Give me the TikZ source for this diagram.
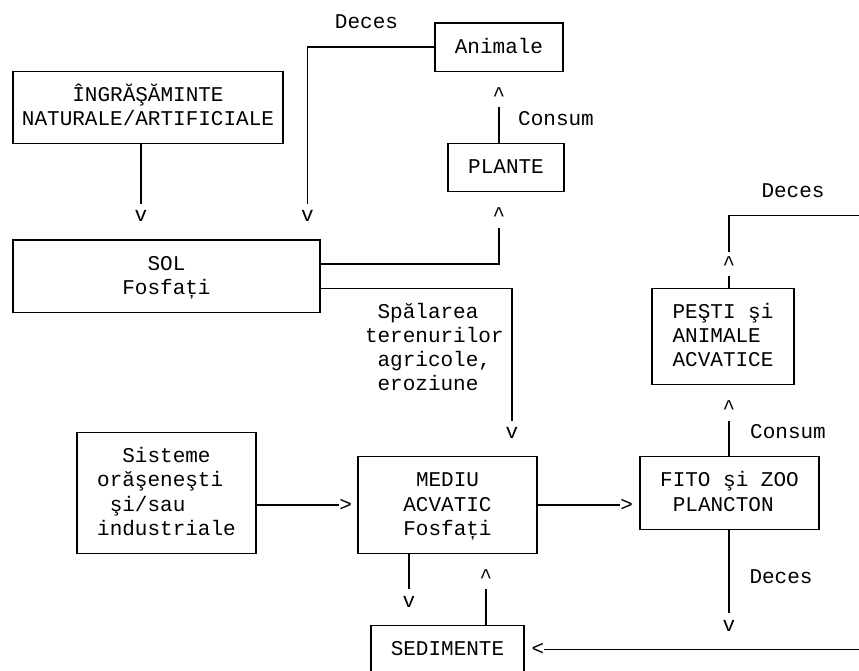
\documentclass[tikz,border=0pt]{standalone}
\usepackage{fontspec}
\setmainfont{Liberation Mono}
\newcommand\mystrut{\rule[-6.05pt]{0pt}{24.1pt}}
\tikzset{
  txtbase/.style={inner sep=0pt, outer sep=0pt, font=\fontsize{21}{24.1}\selectfont},
  box/.style={txtbase, draw, line width=1.2pt},
  lbl/.style={txtbase},
  tipmk/.style={txtbase},
  conn/.style={line width=1.2pt},
}
\begin{document}
\begin{tikzpicture}[x=1pt,y=-1pt]
\useasboundingbox (0,0) rectangle (859,671);
\clip (0,0) rectangle (859,671);

% boxes
\node[box, minimum width=270pt, minimum height=72.3pt, align=center] (ingr) at (148,107.35)
  {\mystrut ÎNGRĂŞĂMINTE\\\mystrut NATURALE/ARTIFICIALE};
\node[box, minimum width=307pt, minimum height=72.3pt, align=center] (sol) at (166.5,276.05)
  {\mystrut SOL\\\mystrut Fosfați};
\node[box, minimum width=128pt, minimum height=48.2pt] (anim) at (499,47.1)
  {\mystrut Animale};
\node[box, minimum width=116pt, minimum height=48.2pt] (plante) at (506,167.6)
  {\mystrut PLANTE};
\node[box, minimum width=142pt, minimum height=96.4pt, align=left] (pesti) at (723,336.3)
  {\mystrut PEŞTI şi\\\mystrut ANIMALE\\\mystrut ACVATICE};
\node[box, minimum width=179pt, minimum height=72.3pt, align=left] (fito) at (729.5,492.95)
  {\mystrut FITO şi ZOO\\\mystrut\hphantom{x}PLANCTON};
\node[box, minimum width=179pt, minimum height=96.4pt, align=center] (mediu) at (447.5,505)
  {\mystrut MEDIU\\\mystrut ACVATIC\\\mystrut Fosfați};
\node[box, minimum width=153pt, minimum height=48.2pt] (sed) at (447.5,649.6)
  {\mystrut SEDIMENTE};
\node[box, minimum width=179pt, minimum height=120.5pt, align=left] (sist) at (166.5,492.95)
  {\mystrut\hphantom{xx}Sisteme\\\mystrut orăşeneşti\\\mystrut\hphantom{x}şi/sau\\\mystrut industriale};

% labels
\node[lbl] (decesA) at (366.5,23) {\mystrut Deces};
\node[lbl] (consumA) at (556,119.4) {\mystrut Consum};
\node[lbl] (decesB) at (793,191.7) {\mystrut Deces};
\node[lbl, anchor=west, align=left] (spal) at (365,348.35)
  {\mystrut\hphantom{x}Spălarea\\\mystrut terenurilor\\\mystrut\hphantom{x}agricole,\\\mystrut\hphantom{x}eroziune};
\node[lbl] (consumB) at (788,432.7) {\mystrut Consum};
\node[lbl] (decesC) at (781,577.3) {\mystrut Deces};

% arrow marks
\node[tipmk] (vA) at (141,215.8) {\mystrut v};
\node[tipmk] (vB) at (307.5,215.8) {\mystrut v};
\node[tipmk] (cA) at (499,95.3) {\mystrut\textasciicircum};
\node[tipmk] (cB) at (499,215.8) {\mystrut\textasciicircum};
\node[tipmk] (vC) at (512,432.7) {\mystrut v};
\node[tipmk] (cC) at (729,264) {\mystrut\textasciicircum};
\node[tipmk] (cD) at (729,408.6) {\mystrut\textasciicircum};
\node[tipmk] (gA) at (345.7,505) {\mystrut>};
\node[tipmk] (gB) at (626.7,505) {\mystrut>};
\node[tipmk] (vD) at (409,601.4) {\mystrut v};
\node[tipmk] (cE) at (486,577.3) {\mystrut\textasciicircum};
\node[tipmk] (vE) at (729,625.5) {\mystrut v};
\node[tipmk] (lA) at (538,649.6) {\mystrut<};

% free ends at the right edge
\coordinate (eH) at (870,215.8);
\coordinate (eK) at (870,649.6);

% connectors
\draw[conn] (ingr.south -| vA) -- (vA.north);
\draw[conn] (anim.west) -| (vB.north);
\draw[conn] (plante.north -| cA) -- (cA.south);
\draw[conn] (sol.east |- 0,264) -| (cB.south);
\draw[conn] (sol.east |- 0,288.1) -| (vC.north);
\draw[conn] (pesti.north -| cC) -- (cC.south);
\draw[conn] (cC.north) |- (eH);
\draw[conn] (fito.north -| cD) -- (cD.south);
\draw[conn] (fito.south -| vE) -- (vE.north);
\draw[conn] (eK) -- (lA.east);
\draw[conn] (mediu.south -| vD) -- (vD.north);
\draw[conn] (sed.north -| cE) -- (cE.south);
\draw[conn] (sist.east |- gA) -- (gA.west);
\draw[conn] (mediu.east |- gB) -- (gB.west);
\end{tikzpicture}
\end{document}
